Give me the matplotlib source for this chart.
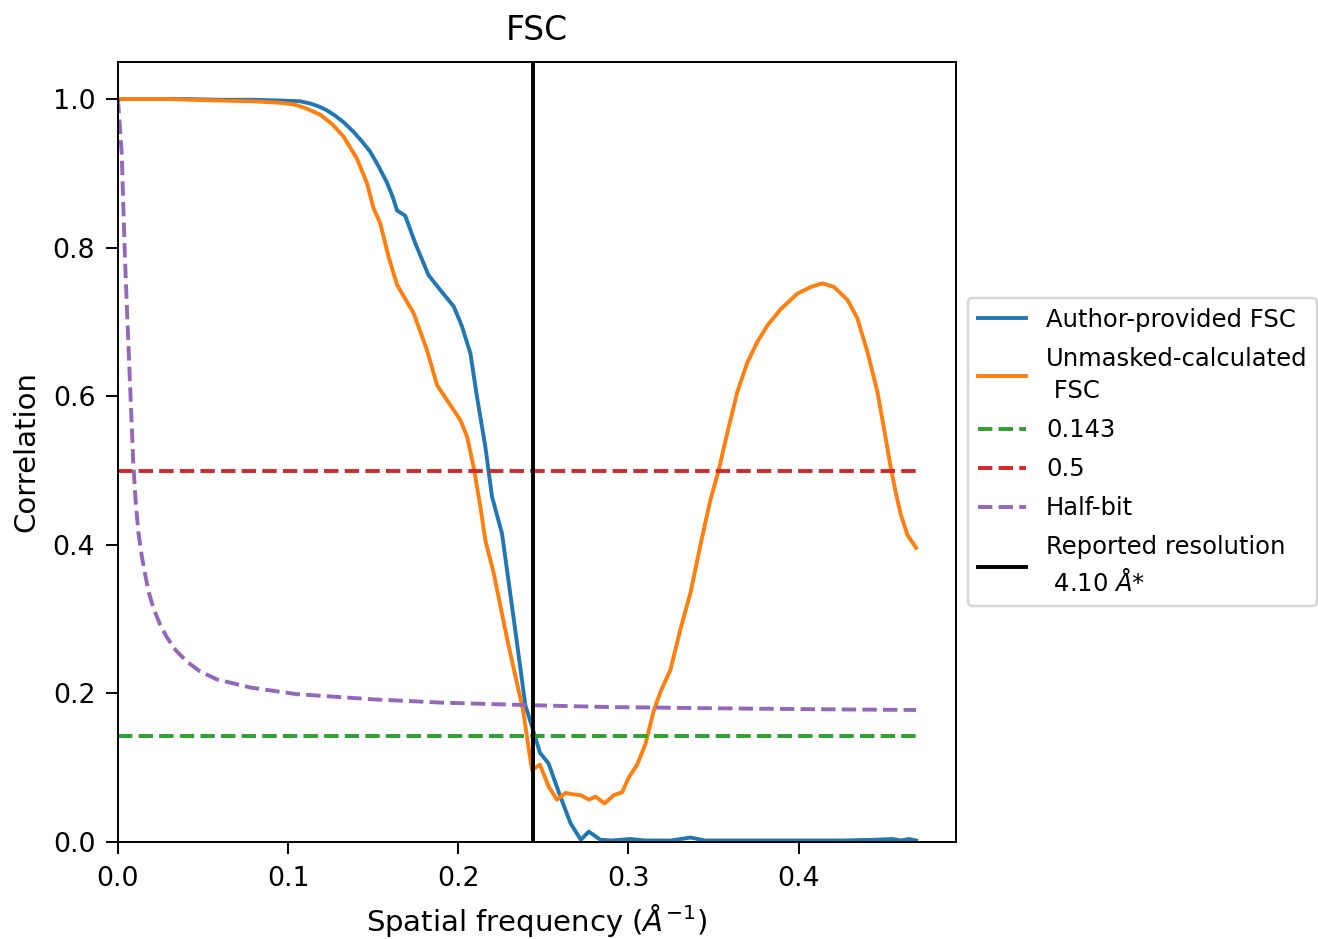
import matplotlib
matplotlib.use("Agg")
import matplotlib.pyplot as plt

# Author-provided FSC
author_x = [0.000, 0.020, 0.040, 0.060, 0.080, 0.095, 0.107, 0.113, 0.118, 0.1227,
            0.128, 0.1325, 0.1384, 0.143, 0.148, 0.153, 0.158, 0.1615, 0.164, 0.1688,
            0.1747, 0.1825, 0.1894, 0.1973, 0.2020, 0.2071, 0.211, 0.2159, 0.2198, 0.2257,
            0.2326, 0.2394, 0.2447, 0.248, 0.253, 0.260, 0.266, 0.272, 0.2767, 0.2835,
            0.290, 0.301, 0.310, 0.325, 0.3365, 0.345, 0.370, 0.400, 0.425, 0.445,
            0.455, 0.460, 0.465, 0.469]
author_y = [1.000, 1.000, 1.000, 0.999, 0.999, 0.998, 0.997, 0.994, 0.990, 0.985,
            0.977, 0.969, 0.956, 0.944, 0.930, 0.910, 0.888, 0.868, 0.850, 0.843,
            0.806, 0.763, 0.743, 0.721, 0.695, 0.658, 0.599, 0.532, 0.465, 0.415,
            0.300, 0.184, 0.145, 0.120, 0.106, 0.061, 0.025, 0.003, 0.014, 0.003,
            0.002, 0.004, 0.002, 0.002, 0.006, 0.002, 0.002, 0.002, 0.002, 0.003,
            0.004, 0.002, 0.004, 0.002]

# Unmasked-calculated FSC
unmasked_x = [0.000, 0.030, 0.060, 0.080, 0.095, 0.103, 0.110, 0.1188, 0.1260, 0.1324,
              0.1404, 0.1463, 0.1502, 0.1541, 0.159, 0.164, 0.1737, 0.1816, 0.1875, 0.1933,
              0.2012, 0.2051, 0.209, 0.213, 0.2159, 0.2208, 0.2290, 0.2380, 0.2433, 0.248,
              0.2530, 0.258, 0.263, 0.268, 0.272, 0.2767, 0.2806, 0.2860, 0.2914, 0.2963,
              0.3002, 0.3051, 0.3100, 0.3149, 0.3188, 0.3247, 0.3306, 0.3365, 0.3424, 0.3482,
              0.3531, 0.358, 0.364, 0.3698, 0.3757, 0.3816, 0.3894, 0.3992, 0.407, 0.414,
              0.4208, 0.4286, 0.4345, 0.4404, 0.4463, 0.4502, 0.454, 0.457, 0.460, 0.464, 0.469]
unmasked_y = [1.000, 1.000, 0.998, 0.997, 0.995, 0.993, 0.988, 0.979, 0.966, 0.950,
              0.920, 0.887, 0.853, 0.833, 0.788, 0.750, 0.712, 0.662, 0.615, 0.595,
              0.568, 0.546, 0.505, 0.451, 0.406, 0.362, 0.270, 0.178, 0.097, 0.104,
              0.075, 0.057, 0.066, 0.064, 0.063, 0.057, 0.061, 0.052, 0.063, 0.067,
              0.087, 0.104, 0.132, 0.177, 0.202, 0.232, 0.287, 0.336, 0.401, 0.461,
              0.501, 0.550, 0.606, 0.645, 0.673, 0.695, 0.717, 0.738, 0.747, 0.752,
              0.747, 0.730, 0.705, 0.660, 0.606, 0.556, 0.506, 0.471, 0.441, 0.413, 0.396]

# Half-bit threshold curve
halfbit_x = [0.0000, 0.0022, 0.0041, 0.0056, 0.0071, 0.0090, 0.0105, 0.0120, 0.0140, 0.0159,
             0.0180, 0.0208, 0.0245, 0.0286, 0.0340, 0.0404, 0.0480, 0.0580, 0.0776, 0.1050,
             0.1500, 0.1910, 0.2450, 0.2875, 0.3500, 0.4100, 0.4690]
halfbit_y = [1.000, 0.927, 0.786, 0.700, 0.616, 0.510, 0.455, 0.417, 0.385, 0.361,
             0.337, 0.315, 0.294, 0.276, 0.258, 0.243, 0.230, 0.219, 0.208, 0.199,
             0.192, 0.1875, 0.184, 0.1817, 0.180, 0.1787, 0.1777]

threshold_0143 = 0.143
threshold_05 = 0.5
reported_resolution = 4.10  # Angstrom

plt.rcParams["xtick.major.size"] = 4.8
plt.rcParams["ytick.major.size"] = 4.8
plt.rcParams["xtick.major.pad"] = 5.0
plt.rcParams["ytick.major.pad"] = 4.5
plt.rcParams["xtick.labelsize"] = 11
plt.rcParams["ytick.labelsize"] = 11

dpi = 175
fig = plt.figure(figsize=(1318 / dpi, 939 / dpi), dpi=dpi)
ax = fig.add_axes([0.0895, 0.1033, 0.7253 - 0.0895, 0.934 - 0.1033])

xr = [author_x[0], author_x[-1]]
ax.plot(author_x, author_y, color="C0", lw=1.6, label="Author-provided FSC")
ax.plot(unmasked_x, unmasked_y, color="C1", lw=1.6, label="Unmasked-calculated\n FSC")
ax.plot(xr, [threshold_0143] * 2, "--", color="C2", lw=1.6, label="0.143")
ax.plot(xr, [threshold_05] * 2, "--", color="C3", lw=1.6, label="0.5")
ax.plot(halfbit_x, halfbit_y, "--", color="C4", lw=1.6, label="Half-bit")
ax.axvline(1 / reported_resolution, color="black", lw=1.6,
           label="Reported resolution\n %.2f $\\AA$*" % reported_resolution)

ax.set_xlim(left=0)
ax.set_ylim(bottom=0)
ax.set_title("FSC", fontsize=13.5, pad=9)
ax.set_xlabel("Spatial frequency ($\\AA^{-1}$)", fontsize=12, labelpad=4)
ax.set_ylabel("Correlation", fontsize=12, labelpad=5)
leg = ax.legend(loc="center left", bbox_to_anchor=(1, 0.5), labelspacing=0.62)
for t in leg.get_texts():
    t.set_linespacing(1.45)

fig.savefig("out.png", dpi=dpi)
